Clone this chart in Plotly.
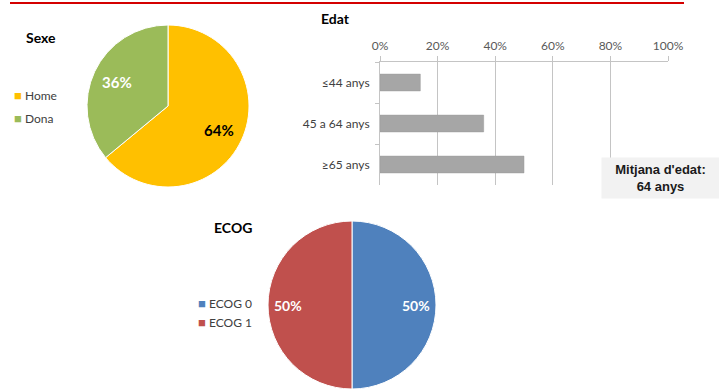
import math
import plotly.graph_objects as go

W, H = 719, 390

# --- data -------------------------------------------------------------
sexe_labels = ["Home", "Dona"]
sexe_values = [64, 36]
sexe_colors = ["#FFC000", "#9BBB59"]
sexe_text_colors = ["#000000", "#FFFFFF"]

edat_labels = ["≤44 anys", "45 a 64 anys", "≥65 anys"]
edat_values = [0.14, 0.36, 0.50]
edat_ticks = [0, 0.2, 0.4, 0.6, 0.8, 1.0]

ecog_labels = ["ECOG 0", "ECOG 1"]
ecog_values = [50, 50]
ecog_colors = ["#4F81BD", "#C0504D"]
ecog_text_colors = ["#FFFFFF", "#FFFFFF"]

mitjana_edat = 64

FONT = "Lato"


def fx(px):
    return px / W


def fy(px):
    return 1 - px / H


fig = go.Figure()
annotations = []


def add_pie(labels, values, colors, text_colors, cx, cy, r, text_size, label_r):
    """Clockwise pie from 12 o'clock, with percent labels placed at
    label_r * radius along each slice's mid-angle."""
    fig.add_trace(go.Pie(
        labels=labels, values=values, sort=False,
        direction="clockwise", rotation=0,
        marker=dict(colors=colors, line=dict(color="#FFFFFF", width=1)),
        textinfo="none",
        domain=dict(x=[fx(cx - r), fx(cx + r)], y=[fy(cy + r), fy(cy - r)]),
        showlegend=False, hoverinfo="label+percent",
    ))
    total = sum(values)
    start = 0.0
    for v, tc in zip(values, text_colors):
        frac = v / total
        mid = 2 * math.pi * (start + frac / 2)
        start += frac
        x = cx + label_r * r * math.sin(mid)
        y = cy - label_r * r * math.cos(mid)
        annotations.append(dict(
            text=f"<b>{round(frac * 100)}%</b>", x=fx(x), y=fy(y),
            xref="paper", yref="paper", showarrow=False,
            xanchor="center", yanchor="middle",
            font=dict(family=FONT, size=text_size, color=tc),
        ))


add_pie(sexe_labels, sexe_values, sexe_colors, sexe_text_colors,
        168, 106, 81, 15, 0.69)
add_pie(ecog_labels, ecog_values, ecog_colors, ecog_text_colors,
        352, 305, 84, 14, 0.76)

# Edat bars
fig.add_trace(go.Bar(
    x=edat_values, y=edat_labels, orientation="h",
    marker=dict(color="#A6A6A6", line=dict(color="#9A9A9A", width=0.5)),
    width=0.41, showlegend=False,
))

fig.update_layout(
    width=W, height=H,
    margin=dict(l=0, r=0, t=0, b=0, autoexpand=False),
    paper_bgcolor="#FFFFFF", plot_bgcolor="#FFFFFF",
    font=dict(family=FONT, size=12, color="#404040"),
    xaxis=dict(
        domain=[fx(380), fx(668)], range=[0, 1], side="top",
        tickvals=edat_ticks, tickformat=".0%",
        showgrid=True, gridcolor="#C4C4C4", gridwidth=1,
        showline=True, linecolor="#C4C4C4", linewidth=1,
        zeroline=False, ticks="outside", ticklen=5, tickcolor="#C4C4C4",
        ticklabelstandoff=1, automargin=False,
        tickfont=dict(size=12, color="#595959"),
        fixedrange=True,
    ),
    yaxis=dict(
        domain=[fy(185), fy(62)], autorange="reversed",
        categoryorder="array", categoryarray=edat_labels,
        showline=True, linecolor="#C4C4C4", linewidth=1,
        ticks="outside", tickson="boundaries", ticklen=4, tickcolor="#C4C4C4",
        showgrid=False, zeroline=False, ticklabelstandoff=7,
        automargin=False,
        tickfont=dict(size=12, color="#404040"),
        fixedrange=True,
    ),
)

# chart titles
for text, x, y in [("Sexe", 41, 38), ("Edat", 335, 18), ("ECOG", 233, 227)]:
    annotations.append(dict(
        text=f"<b>{text}</b>", x=fx(x), y=fy(y), xref="paper", yref="paper",
        showarrow=False, xanchor="center", yanchor="middle",
        font=dict(family=FONT, size=14, color="#000000"),
    ))


# legends
def legend_items(labels, colors, x, y0, step):
    for i, (lab, col) in enumerate(zip(labels, colors)):
        annotations.append(dict(
            text=f"<span style='color:{col};font-size:13px'>■</span> {lab}",
            x=fx(x), y=fy(y0 + i * step), xref="paper", yref="paper",
            showarrow=False, xanchor="left", yanchor="middle",
            font=dict(family=FONT, size=12, color="#404040"),
        ))


legend_items(sexe_labels, sexe_colors, 12, 95, 23)
legend_items(ecog_labels, ecog_colors, 196, 303, 19)

# mean age box
annotations.append(dict(
    text=f"<b>Mitjana d'edat:<br>{mitjana_edat} anys</b>",
    x=fx(660.5), y=fy(178), xref="paper", yref="paper",
    showarrow=False, xanchor="center", yanchor="middle",
    width=115, height=38, bgcolor="#F2F2F2", borderpad=1,
    font=dict(family="Liberation Sans", size=13, color="#1A1A1A"),
))

fig.update_layout(annotations=annotations)

# header rule
fig.add_shape(type="line", xref="paper", yref="paper",
              x0=fx(10), x1=fx(684), y0=fy(3), y1=fy(3),
              line=dict(color="#D40000", width=2))

fig.write_html("out.html")
